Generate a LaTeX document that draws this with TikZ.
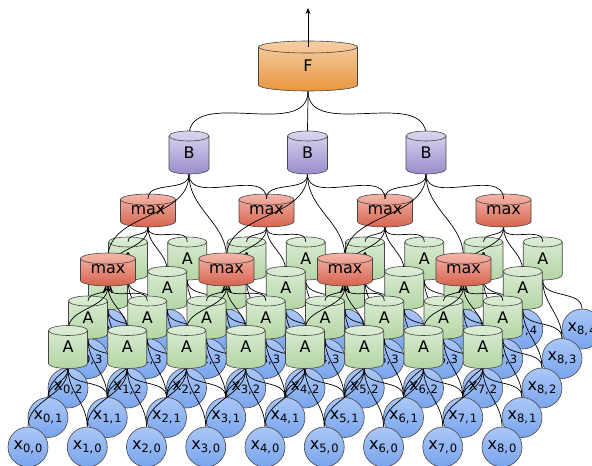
\documentclass[tikz,border=0pt]{standalone}
\usepackage{fontspec}
\setmainfont{DejaVu Sans}
\usetikzlibrary{arrows.meta}
\definecolor{ftop}{HTML}{F7CFA6}
\definecolor{fbot}{HTML}{E8963F}
\definecolor{btop}{HTML}{DCD6F0}
\definecolor{bbot}{HTML}{9A8DCB}
\definecolor{mtop}{HTML}{F4B7AA}
\definecolor{mbot}{HTML}{D6634F}
\definecolor{atop}{HTML}{DDEDD6}
\definecolor{abot}{HTML}{B3D5A4}
\definecolor{xtop}{HTML}{ABC7F7}
\definecolor{xbot}{HTML}{78A4ED}
\definecolor{rim}{HTML}{454545}
\pgfdeclarelayer{rowx4}\pgfdeclarelayer{wA3}\pgfdeclarelayer{rowA3}
\pgfdeclarelayer{wM1}\pgfdeclarelayer{rowM1}\pgfdeclarelayer{rowx3}
\pgfdeclarelayer{wA2}\pgfdeclarelayer{rowA2}\pgfdeclarelayer{wB}
\pgfdeclarelayer{rowB}\pgfdeclarelayer{rowx2}\pgfdeclarelayer{wA1}
\pgfdeclarelayer{rowA1}\pgfdeclarelayer{wM0}\pgfdeclarelayer{rowM0}
\pgfdeclarelayer{rowx1}\pgfdeclarelayer{wA0}\pgfdeclarelayer{rowA0}
\pgfdeclarelayer{rowx0}
\pgfsetlayers{rowx4,wA3,rowA3,wM1,rowM1,rowx3,wA2,rowA2,wB,rowB,rowx2,wA1,rowA1,wM0,rowM0,rowx1,wA0,rowA0,rowx0,main}
\newcommand{\xlab}[2]{{\fontsize{16}{16}\selectfont x}\raisebox{-3pt}{\fontsize{11.5}{12}\selectfont #1,\kern1pt #2}}
% drum: name, x, y, width, height, ellipse ry, colour prefix, text
\newcommand{\drum}[8]{%
  \path[draw=rim, line width=0.6pt, top color=#7top, bottom color=#7bot]
    ({#2-#4/2},{#3-#5/2+#6}) -- ({#2-#4/2},{#3+#5/2-#6})
    arc[start angle=180, end angle=360, x radius={#4/2*1pt}, y radius={#6*1pt}]
    -- ({#2+#4/2},{#3-#5/2+#6})
    arc[start angle=0, end angle=180, x radius={#4/2*1pt}, y radius={#6*1pt}] -- cycle;
  \draw[rim, line width=0.6pt] ({#2-#4/2},{#3-#5/2+#6})
    arc[start angle=180, end angle=360, x radius={#4/2*1pt}, y radius={#6*1pt}];
  \node[unit, minimum width=#4pt, minimum height=#5pt] (#1) at (#2,#3) {#8};}

\begin{document}
\begin{tikzpicture}[
  x=1pt, y=-1pt,
  unit/.style={rectangle, inner sep=0pt, text depth=-3pt, font=\fontsize{16}{16}\selectfont},
  inp/.style={circle, draw=rim, line width=0.6pt, minimum size=40pt, inner sep=0pt,
              top color=xtop, bottom color=xbot},
  wire/.style={draw=black, line width=0.7pt},
]
\useasboundingbox (0,0) rectangle (592,466);

\foreach \j in {0,...,4}{
  \begin{pgfonlayer}{rowx\j}
  \foreach \i in {0,...,8}
    \node[inp] (x-\i-\j) at ({28+59.25*\i+20*\j},{447-29.5*\j}) {\xlab{\i}{\j}};
  \end{pgfonlayer}}

\foreach \j in {0,...,3}{
  \begin{pgfonlayer}{rowA\j}
  \foreach \i in {0,...,7}{
    \pgfmathsetmacro\cx{68+59.25*\i+20*\j}
    \pgfmathsetmacro\cy{347-29.5*\j}
    \drum{a-\i-\j}{\cx}{\cy}{39}{43}{5}{a}{A}}
  \end{pgfonlayer}}

\foreach \j in {0,1}{
  \begin{pgfonlayer}{rowM\j}
  \foreach \i in {0,...,3}{
    \pgfmathsetmacro\cx{108+118.5*\i+40*\j}
    \pgfmathsetmacro\cy{269.5-59*\j}
    \drum{m-\i-\j}{\cx}{\cy}{55}{33}{5.5}{m}{max}}
  \end{pgfonlayer}}

\begin{pgfonlayer}{rowB}
\foreach \i in {0,1,2}{
  \pgfmathsetmacro\cx{189+118.5*\i}
  \drum{b-\i}{\cx}{152.5}{40}{43}{5}{b}{B}}
\drum{f}{308}{66}{99}{50}{6}{f}{F}
\end{pgfonlayer}
\coordinate (out) at (308,8);

\foreach \j in {0,...,3}{
  \begin{pgfonlayer}{wA\j}
  \foreach \i in {0,...,7}{
    \pgfmathtruncatemacro\ii{\i+1}
    \pgfmathtruncatemacro\jj{\j+1}
    \foreach \p/\q in {\i/\j,\ii/\j,\i/\jj,\ii/\jj}
      \draw[wire] (a-\i-\j.south) to[out=-90,in=90] (x-\p-\q.north);
  }
  \end{pgfonlayer}}

\foreach \j in {0,1}{
  \begin{pgfonlayer}{wM\j}
  \foreach \i in {0,...,3}{
    \pgfmathtruncatemacro\ia{2*\i}
    \pgfmathtruncatemacro\ib{2*\i+1}
    \pgfmathtruncatemacro\ja{2*\j}
    \pgfmathtruncatemacro\jb{2*\j+1}
    \foreach \p/\q in {\ia/\ja,\ib/\ja,\ia/\jb,\ib/\jb}
      \draw[wire] (m-\i-\j.south) to[out=-90,in=90] ([yshift=-5pt]a-\p-\q.north);
  }
  \end{pgfonlayer}}

\begin{pgfonlayer}{wB}
\foreach \i in {0,1,2}{
  \pgfmathtruncatemacro\ii{\i+1}
  \foreach \p/\q in {\i/0,\ii/0,\i/1,\ii/1}
    \draw[wire] (b-\i.south) to[out=-90,in=90] ([yshift=-5pt]m-\p-\q.north);
  \draw[wire] (f.south) to[out=-90,in=90] ([yshift=-5pt]b-\i.north);
}
\end{pgfonlayer}

\draw[wire, -{Stealth[length=6pt,width=5pt]}] ([yshift=-6pt]f.north) -- (out);

\end{tikzpicture}
\end{document}
